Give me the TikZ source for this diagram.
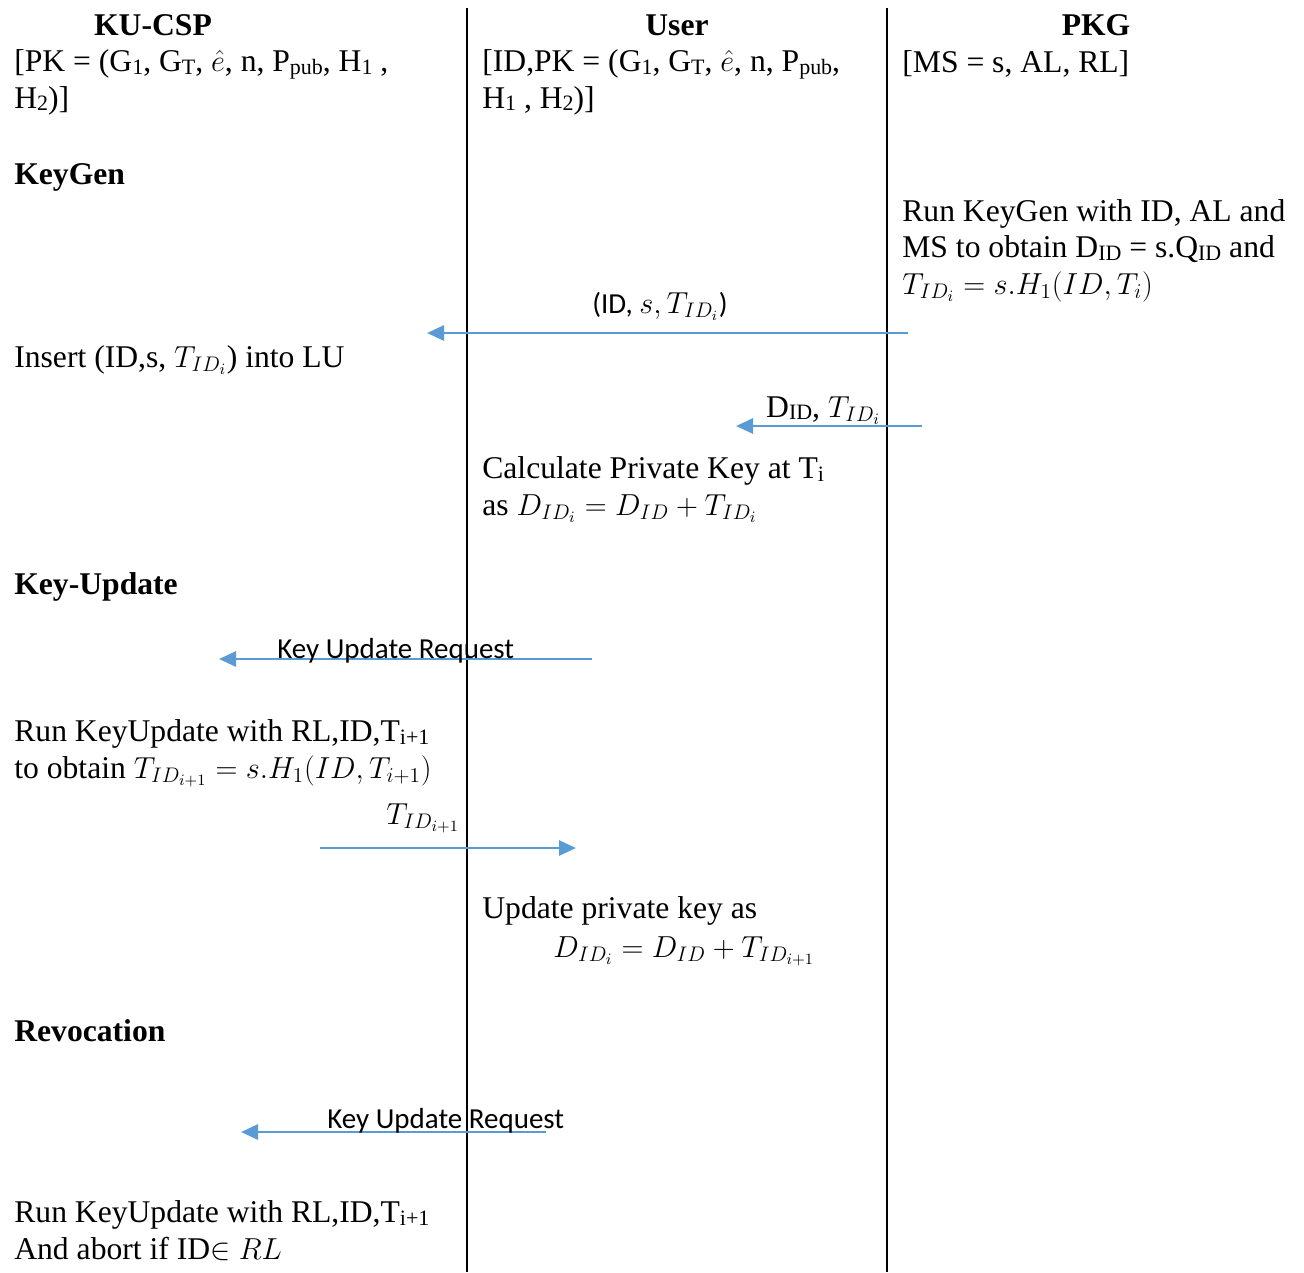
\documentclass[tikz,border=0pt]{standalone}
\usepackage{fontspec}
\setmainfont{Liberation Serif}
\newfontfamily\calibri{Carlito}
\usetikzlibrary{arrows.meta}
\definecolor{msgblue}{RGB}{91,155,213}
% small text subscripts, as set by the word processor
\newcommand{\lowsub}[1]{\raisebox{-0.2ex}{\fontsize{12.5}{12.5}\selectfont #1}}

\begin{document}
\begin{tikzpicture}[x=0.02cm, y=-0.02cm,
  every node/.style={inner sep=0pt, font=\fontsize{18}{20.7}\selectfont},
  txt/.style={anchor=base west, align=left},
  head/.style={anchor=base, font=\fontsize{18}{20.7}\selectfont\bfseries},
  step title/.style={anchor=base west, font=\fontsize{18}{20.7}\selectfont\bfseries},
  lifeline/.style={line width=1.2pt},
  msg/.style={line width=1.6pt, draw=msgblue, -{Triangle[length=0.34cm, width=0.3cm]}},
  lbl/.style={anchor=base, font=\fontsize{16.5}{19}\selectfont\calibri}]

\useasboundingbox (0,0) rectangle (1304,1272);

%--- LIFELINES ---
\coordinate (user top) at (467,8);
\coordinate (user bottom) at (467,1272);
\coordinate (pkg top) at (887,8);
\coordinate (pkg bottom) at (887,1272);
\draw[lifeline] (user top) -- (user bottom);
\draw[lifeline] (pkg top) -- (pkg bottom);

%--- HEADERS (multi-line nodes sit on the baseline of their last line) ---
\node[head] (csp) at (153,35) {KU-CSP};
\node[txt] (csp pk) at (14,108) {[PK = (G\lowsub{1}, G\lowsub{T}, $\hat{e}$, n, P\lowsub{pub}, H\lowsub{1} ,\\H\lowsub{2})]};
\node[head] (user) at (677,35) {User};
\node[txt] (user pk) at (482,108) {[ID,PK = (G\lowsub{1}, G\lowsub{T}, $\hat{e}$, n, P\lowsub{pub},\\H\lowsub{1} , H\lowsub{2})]};
\node[head] (pkg) at (1096,35) {PKG};
\node[txt] (pkg ms) at (902,72) {[MS = s, AL, RL]};

%--- KEYGEN ---
\node[step title] (keygen) at (14,184) {KeyGen};
\node[txt] (pkg run) at (902,294) {Run KeyGen with ID, AL and\\MS to obtain D\lowsub{ID} = s.Q\lowsub{ID} and\\$T_{ID_i} = s.H_1(ID,T_i)$};

\coordinate (m1 from) at (908,333);
\coordinate (m1 to) at (427,333);
\draw[msg] (m1 from) -- (m1 to);
\node[lbl] (m1 lbl) at (660,313) {(ID, $s, T_{ID_i}$)};

\node[txt] (insert) at (14,367) {Insert (ID,s, $T_{ID_i}$) into LU};

\coordinate (m2 from) at (922,426);
\coordinate (m2 to) at (736,426);
\draw[msg] (m2 from) -- (m2 to);
\node[anchor=base east] (m2 lbl) at (881,417) {D\lowsub{ID}, $T_{ID_i}$};

\node[txt] (calc) at (482,515) {Calculate Private Key at T\lowsub{i}\\as $D_{ID_i} = D_{ID} + T_{ID_i}$};

%--- KEY-UPDATE ---
\node[step title] (keyupdate) at (14,594) {Key-Update};

\coordinate (m3 from) at (592,659);
\coordinate (m3 to) at (219,659);
\draw[msg] (m3 from) -- (m3 to);
\node[lbl, anchor=base west] (m3 lbl) at (277,658) {Key Update Request};

\node[txt] (run upd) at (14,778) {Run KeyUpdate with RL,ID,T\lowsub{i+1}\\to obtain $T_{ID_{i+1}} = s.H_1(ID,T_{i+1})$};

\coordinate (m4 from) at (320,848);
\coordinate (m4 to) at (576,848);
\draw[msg] (m4 from) -- (m4 to);
\node[anchor=base] (m4 lbl) at (423,824) {$T_{ID_{i+1}}$};

\node[txt] (upd key) at (482,918) {Update private key as};
\node[txt] (upd eq) at (553,957) {$D_{ID_i} = D_{ID} + T_{ID_{i+1}}$};

%--- REVOCATION ---
\node[step title] (revoc) at (14,1041) {Revocation};

\coordinate (m5 from) at (546,1132);
\coordinate (m5 to) at (241,1132);
\draw[msg] (m5 from) -- (m5 to);
\node[lbl, anchor=base west] (m5 lbl) at (327,1128) {Key Update Request};

\node[txt] (run rev) at (14,1259) {Run KeyUpdate with RL,ID,T\lowsub{i+1}\\And abort if ID$\in RL$};

\end{tikzpicture}
\end{document}
